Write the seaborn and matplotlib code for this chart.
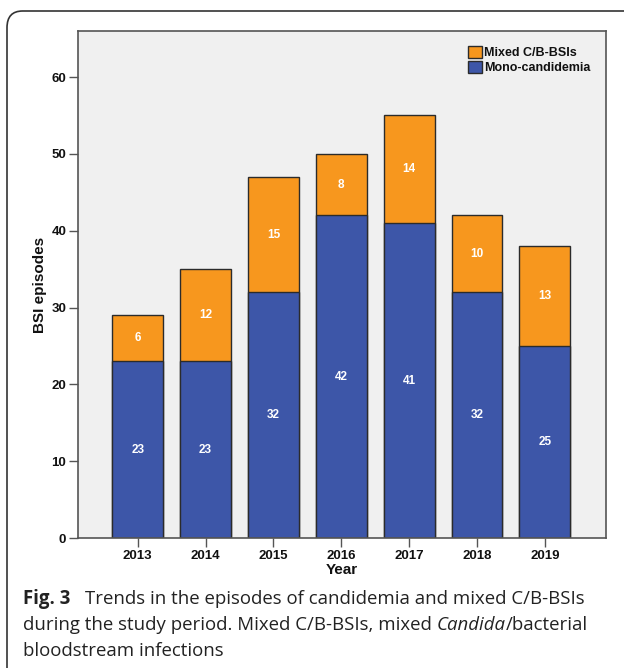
import matplotlib
matplotlib.use("Agg")
import matplotlib.pyplot as plt
import seaborn as sns
import pandas as pd
from matplotlib.patches import FancyBboxPatch, Patch

years = ["2013", "2014", "2015", "2016", "2017", "2018", "2019"]
mono = [23, 23, 32, 42, 41, 32, 25]
mixed = [6, 12, 15, 8, 14, 10, 13]
total = [m + x for m, x in zip(mono, mixed)]

sns.set_theme(style="white")
plt.rcParams['font.family'] = ['Liberation Sans', 'DejaVu Sans']

orange = "#F7971E"
blue = "#3D56A8"
edge = "#2b2b2b"

df = pd.DataFrame({"Year": years, "Mono": mono, "Mixed": mixed, "Total": total})

fig = plt.figure(figsize=(6.24, 6.68), dpi=100)
ax = fig.add_axes([0.125, 0.1946, 0.846, 0.759])
ax.set_facecolor("#F0F0F0")

sns.barplot(data=df, x="Year", y="Total", color=orange, saturation=1, width=0.75,
            edgecolor=edge, linewidth=1.0, ax=ax)
sns.barplot(data=df, x="Year", y="Mono", color=blue, saturation=1, width=0.75,
            edgecolor=edge, linewidth=1.0, ax=ax)

for i, (m, x) in enumerate(zip(mono, mixed)):
    ax.text(i, m / 2, str(m), ha="center", va="center", color="white",
            fontsize=8.5, fontweight="bold")
    ax.text(i, m + x / 2, str(x), ha="center", va="center", color="white",
            fontsize=8.5, fontweight="bold")

ax.set_xlim(-0.88, 6.9)
ax.set_ylim(0, 66)
ax.set_yticks([0, 10, 20, 30, 40, 50, 60])
ax.tick_params(axis="both", which="both", direction="out", length=6.5, width=1,
               color="#555555", labelsize=9.5, pad=2)
ax.tick_params(axis="y", left=True)
ax.tick_params(axis="x", bottom=True)
for lab in ax.get_xticklabels() + ax.get_yticklabels():
    lab.set_fontweight("bold")
    lab.set_color("#111111")
ax.set_xlabel("Year", fontsize=11, fontweight="bold", color="#111111", labelpad=1)
ax.set_ylabel("BSI episodes", fontsize=11, fontweight="bold", color="#111111", labelpad=3)
for s in ax.spines.values():
    s.set_visible(True)
    s.set_color("#555555")
    s.set_linewidth(1.2)
ax.grid(False)

handles = [Patch(facecolor=orange, edgecolor=edge, label="Mixed C/B-BSIs"),
           Patch(facecolor=blue, edgecolor=edge, label="Mono-candidemia")]
leg = ax.legend(handles=handles, loc="upper right", bbox_to_anchor=(0.985, 0.985),
                frameon=False, fontsize=9, handlelength=1.1, handleheight=1.1,
                handletextpad=0.2, labelspacing=0.1, borderaxespad=0.2)
for t in leg.get_texts():
    t.set_fontweight("bold")
    t.set_color("#111111")

# rounded outer frame (cut off at right/bottom)
W, H = 624, 668
box = FancyBboxPatch((7 / W, -0.05), 1.2, (H - 11) / H + 0.05,
                     boxstyle="round,pad=0,rounding_size=0.025",
                     transform=fig.transFigure, facecolor="none",
                     edgecolor="#333333", linewidth=1.2, clip_on=False)
fig.patches.append(box)

cap_fam = ['Open Sans', 'DejaVu Sans']
cs = 13.4
renderer = fig.canvas.get_renderer()


def put(x_px, y_px, s, **kw):
    t = fig.text(x_px / W, 1 - y_px / H, s, fontsize=cs, family=cap_fam,
                 va="baseline", ha="left", color="#222222", **kw)
    bb = t.get_window_extent(renderer)
    return bb.x1


put(23, 604, "Fig. 3", fontweight="bold", )
put(85, 604, "Trends in the episodes of candidemia and mixed C/B-BSIs")
x = put(23, 630, "during the study period. Mixed C/B-BSIs, mixed ")
x = put(x, 630, "Candida", fontstyle="italic")
put(x, 630, "/bacterial")
put(23, 656, "bloodstream infections")

fig.savefig("out.png", dpi=100)
